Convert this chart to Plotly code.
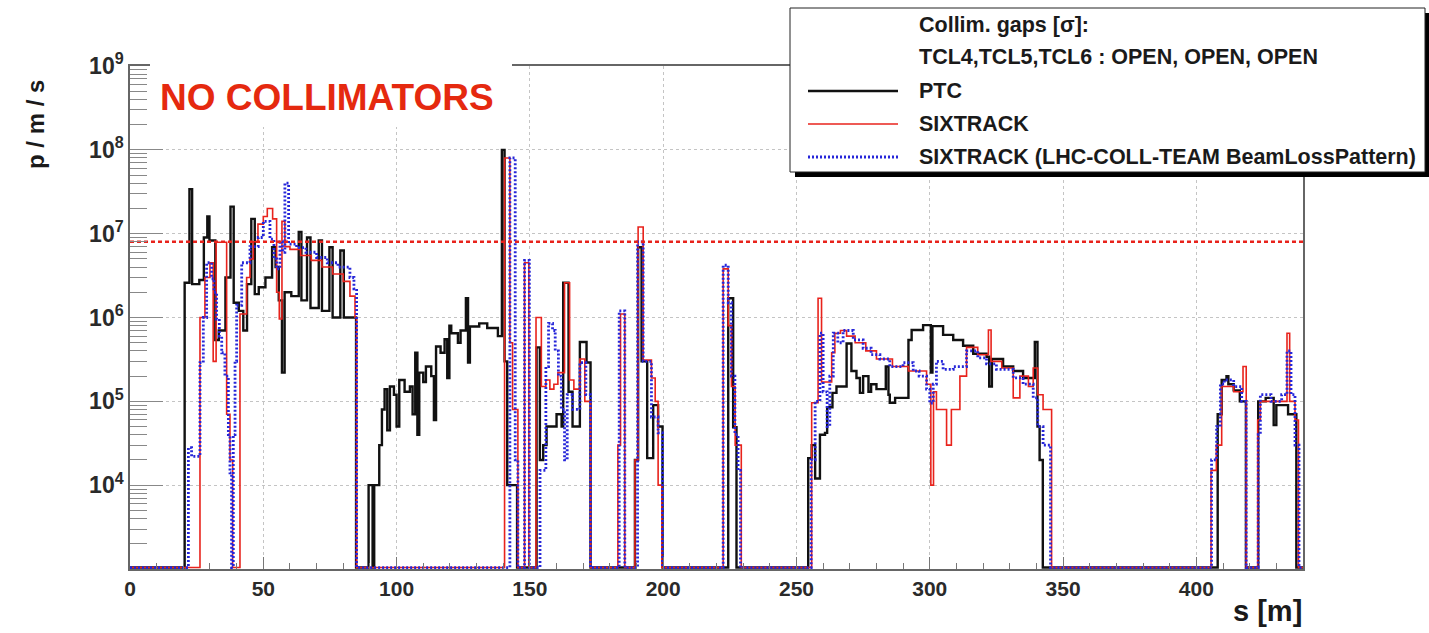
import plotly.graph_objects as go

# ---------------- data (step histograms: bin left edges and bin values) -------------
S_MAX = 440.0

ptc_edges = [0, 20.5, 22.3, 23.3, 26.0, 27.7, 29.0, 29.8, 32.0, 33.3, 35.8, 37.7, 38.9, 40.8,
             42.5, 43.9, 45.5, 46.8, 48.3, 50.8, 53.3, 54.6, 55.8, 57.0, 58.0, 60.5, 63.3,
             64.3, 66.4, 67.7, 70.8, 72.0, 74.8, 76.0, 78.9, 80.2, 84.8,
             89.5, 91.0, 91.6, 93.5, 94.5, 95.5, 96.5, 97.5, 99.0, 100.0, 101.0, 103.0, 105.0,
             106.0, 107.0, 107.8, 108.5, 110.0, 111.0, 113.0, 114.0, 114.8, 116.5, 118.0,
             119.0, 119.8, 120.5, 123.0, 124.0, 126.0, 126.8, 127.5, 131.0, 134.0, 138.0,
             139.5, 140.5, 141.5, 145.2,
             152.5, 153.75, 155.0, 156.25, 160.0, 161.9, 162.5, 164.5, 166.0, 168.75, 171.25,
             172.75,
             189.4, 190.6, 191.9, 194.0, 196.25, 198.1, 199.75,
             224.4, 226.25, 227.5,
             254.4, 255.7, 257.0, 258.8, 260.7, 261.5, 263.5, 265.0, 268.8, 270.6, 272.5,
             273.8, 275.0, 277.0, 278.0, 280.0, 283.5, 284.5, 285.0, 287.0, 292.0, 293.2,
             297.5, 300.4, 301.0, 305.0, 308.8, 312.5, 316.3, 321.3, 322.3, 323.3, 327.5,
             331.3, 335.0, 339.4, 340.4, 341.2, 342.4,
             408.0, 409.5, 411.3, 412.0, 414.0, 416.3, 418.6,
             423.2, 426.0, 429.0, 430.0, 434.4, 437.5]
ptc_values = [0, 2.6e6, 3.4e7, 2.5e6, 2.8e6, 9e6, 1.6e7, 8.3e6, 5.4e5, 7e5, 3e6, 2.1e7, 1.5e6,
              1.2e6, 7e5, 2.5e6, 1.5e7, 1.9e6, 2.3e6, 3e6, 6.9e6, 4e6, 1.6e6, 2.2e5, 2.0e6,
              1.8e6, 1.05e7, 1.6e6, 9e6, 1.3e6, 8.3e6, 1.2e6, 6.9e6, 1.0e6, 6.3e6, 1.0e6, 0,
              1e4, 0, 1e4, 3e4, 8e4, 1.4e5, 4.5e4, 1.5e5, 1.2e5, 5e4, 1.8e5, 1.3e5, 1.5e5,
              7e4, 3.8e5, 4e4, 2.2e5, 1.7e5, 2.6e5, 2.0e5, 6e4, 4.5e5, 3.8e5, 5.5e5,
              1.9e5, 8e5, 6.5e5, 5e5, 7e5, 1.7e6, 2.9e5, 7.8e5, 8.5e5, 7.5e5, 6e5,
              1e8, 3e5, 1e4, 0,
              4.4e5, 2e4, 3e4, 5e4, 7e4, 5e4, 2.6e6, 1.3e5, 5e4, 5.1e5, 2.9e5,
              0,
              2e4, 6.9e6, 3e5, 2.1e4, 9e4, 5e4, 0,
              1.7e6, 4.9e4, 0,
              2.1e4, 3e4, 1.2e4, 4e4, 4.2e4, 8.5e4, 1.26e5, 1.5e5, 4.9e5, 2.3e5, 1.9e5,
              1.26e5, 2e5, 1.3e5, 1.6e5, 1.4e5, 2.6e5, 1.2e5, 9.6e4, 1.1e5, 5.4e5, 7.1e5,
              8.1e5, 2.2e5, 7.9e5, 6.2e5, 5.4e5, 4.6e5, 3.7e5, 3.4e5, 1.5e5, 3.2e5, 2.6e5,
              2.3e5, 1.9e5, 5.1e5, 5e4, 2e4, 0,
              7e4, 1.8e5, 2e5, 1.6e5, 1.35e5, 1.0e5, 0,
              1.0e5, 1.1e5, 5.2e4, 9e4, 7e4, 0]

sixtrack_edges = [0, 26.25, 28.1, 30.0, 31.2, 32.3, 36.25, 37.5, 38.5, 41.25, 43.75, 45.0,
                  46.25, 48.0, 50.0, 51.5, 53.5, 55.0, 56.0, 57.0, 58.1, 60.0, 64.0, 68.0,
                  72.0, 76.0, 80.0, 82.5, 84.4, 85.0,
                  140.5, 142.5, 143.5, 145.5, 148.0, 149.6,
                  152.3, 154.3, 156.0, 157.5, 159.0, 160.5, 163.0, 164.9, 166.5, 168.75,
                  170.6, 172.75,
                  183.0, 184.0, 185.6,
                  189.4, 190.6, 192.5, 195.6, 197.0, 198.1, 199.5,
                  222.5, 224.4, 225.6, 227.0, 229.3,
                  255.7, 258.1, 259.4, 263.2, 264.4, 266.5, 268.8, 272.0, 276.0, 280.0,
                  286.0, 292.0, 298.8, 300.4, 301.4, 302.5, 306.3, 308.1, 311.3, 313.8,
                  318.0, 322.0, 323.0, 327.0, 331.3, 333.8, 337.0, 338.8, 340.5, 342.5,
                  345.7,
                  405.5, 407.5, 409.5, 414.0, 417.5, 418.7,
                  423.0, 424.0, 434.0, 435.0, 437.0, 438.3]
sixtrack_values = [0, 1e6, 3e6, 4.5e6, 3e5, 7.9e6, 7e4, 2e4, 0, 1.1e6, 3e6, 5e6,
                   8e6, 1.3e7, 1.6e7, 2e7, 1.5e7, 2e6, 9.6e5, 1.4e7, 7e6, 6.5e6, 5.5e6,
                   4.8e6, 4e6, 3.3e6, 2.7e6, 1.8e6, 1e6, 0,
                   8e7, 5e5, 8e4, 0, 4.5e6, 0,
                   1e6, 1.5e5, 1.8e5, 1.4e5, 1.6e5, 2.2e5, 2.6e6, 1.8e5, 1.4e5, 3.2e5,
                   1e5, 0,
                   3e4, 1.1e6, 0,
                   2e4, 1.2e7, 3.1e5, 1.9e5, 1e5, 1e4, 0,
                   3.8e6, 8e5, 1.5e5, 3e4, 0,
                   9.6e4, 1.7e6, 1.7e5, 3.8e5, 6.5e5, 7e5, 6e5, 5e5, 4e5, 3.2e5,
                   2.6e5, 2.3e5, 1.6e5, 1e4, 1.3e5, 8e4, 3e4, 8e4, 2e5, 4.4e5,
                   3.6e5, 7.1e5, 3e5, 2.5e5, 1.1e5, 2e5, 1.5e5, 2.5e5, 1.2e5, 8e4,
                   0,
                   1.5e4, 3e4, 1.5e5, 1.3e5, 2.6e5, 0,
                   6e4, 1e5, 6.5e5, 1e5, 6e4, 0]

blp_edges = [0, 21.9, 23.1, 26.25, 27.5, 28.75, 30.6, 31.5, 32.5, 33.5, 34.4, 35.6, 36.9,
             37.5, 38.1, 38.75, 39.4, 40.0, 41.9, 45.0, 48.1, 50.0, 52.5, 54.0, 55.0, 56.25,
             57.2, 58.1, 59.5, 62.5, 66.0, 70.0, 74.0, 78.0, 82.5, 84.0, 85.0,
             142.5, 144.5, 145.5, 148.0, 149.8,
             153.8, 156.0, 157.0, 158.5, 159.5, 160.7, 161.8, 163.0, 164.0, 166.0, 168.75,
             171.0, 172.75,
             183.5, 185.6,
             190.4, 192.5, 195.6, 198.1, 199.75,
             222.5, 224.4, 225.6, 226.9, 228.1, 229.0,
             255.5, 257.0, 258.8, 260.0, 261.5, 262.5, 263.8, 265.5, 267.5, 271.3, 275.0,
             278.0, 281.3, 285.0, 290.0, 293.8, 296.0, 298.8, 300.0, 301.3, 302.5, 305.0,
             308.8, 313.8, 318.0, 321.3, 325.0, 331.3, 335.0, 338.8, 340.5, 342.5, 345.3,
             405.7, 407.6, 409.0, 410.5, 414.0, 417.0, 418.7,
             423.2, 424.0, 428.0, 432.0, 434.0, 435.5, 437.0, 438.5]
blp_values = [0, 2.8e4, 2.2e4, 2.9e5, 1e6, 4.5e6, 2.9e6, 2e6, 9.6e5, 6e5, 3.8e5, 2e5, 4e4,
              1.4e4, 0, 4e4, 3e5, 1.4e6, 4.5e6, 7e6, 9e6, 1.4e7, 8.6e6, 5e6, 3.8e6, 8e6,
              6e6, 4e7, 7.5e6, 6.8e6, 6e6, 5.2e6, 4.5e6, 4e6, 3e6, 2.2e6, 0,
              8e7, 2e4, 0, 4.8e6, 0,
              1.5e4, 2.6e5, 8.5e5, 7e5, 4e5, 2e5, 8e4, 2e4, 1.2e5, 8e4, 2.9e5,
              1.2e5, 0,
              1.2e6, 0,
              8e6, 3e5, 6.5e4, 4.2e4, 0,
              4.2e6, 1.5e6, 2e5, 4e4, 1.5e4, 0,
              2e4, 1e5, 6.5e5, 1.3e5, 5e4, 2e5, 6.5e5, 5e5, 7e5, 5.4e5, 4.3e5,
              3.6e5, 3.2e5, 2.6e5, 2.9e5, 2.3e5, 2e5, 1.4e5, 9.5e4, 1.6e5, 3e5, 2.4e5,
              2.6e5, 4e5, 3.3e5, 2.8e5, 2.4e5, 1.9e5, 1.6e5, 1.1e5, 5e4, 3e4, 0,
              2e4, 5e4, 1.6e5, 1.8e5, 1.5e5, 1e5, 0,
              4e4, 1.2e5, 1e5, 1.2e5, 4e5, 1.2e5, 3e4, 0]

quench_limit = 8e6

x_ticks = [0, 50, 100, 150, 200, 250, 300, 350, 400]
y_ticks = [1e4, 1e5, 1e6, 1e7, 1e8, 1e9]
y_ticktext = ["10<sup>4</sup>", "10<sup>5</sup>", "10<sup>6</sup>",
              "10<sup>7</sup>", "10<sup>8</sup>", "10<sup>9</sup>"]

legend_header = ["Collim. gaps [σ]:", "TCL4,TCL5,TCL6 : OPEN, OPEN, OPEN"]
series_names = ["PTC", "SIXTRACK", "SIXTRACK (LHC-COLL-TEAM BeamLossPattern)"]
series_colors = ["#111111", "#e8231c", "#2626d9"]

# ---------------- layout helpers ----------------
W, H = 1429, 633
L, R, T, B = 130, 126, 66, 64
PW, PH = W - L - R, H - T - B
Y_FLOOR = 1.04e3


def fx(px):
    return (px - L) / PW


def fy(py):
    return (H - B - py) / PH


def step_xy(edges, values):
    xs = list(edges) + [S_MAX]
    ys = [v if v > 0 else Y_FLOOR for v in values]
    ys = ys + [ys[-1]]
    return xs, ys


FONT = "Liberation Sans, Arial, Helvetica, sans-serif"

fig = go.Figure()

styles = [dict(width=2.4, dash="solid"), dict(width=1.6, dash="solid"), dict(width=2.8, dash="2px,2px")]
for name, color, st, (e, v) in zip(series_names, series_colors, styles,
                                   [(ptc_edges, ptc_values), (sixtrack_edges, sixtrack_values),
                                    (blp_edges, blp_values)]):
    xs, ys = step_xy(e, v)
    fig.add_trace(go.Scatter(x=xs, y=ys, mode="lines", name=name, line_shape="hv",
                             line=dict(color=color, width=st["width"], dash=st["dash"]),
                             showlegend=False, hoverinfo="skip"))

fig.add_trace(go.Scatter(x=[0, S_MAX], y=[quench_limit, quench_limit], mode="lines",
                         line=dict(color="#e8231c", width=2.4, dash="4px,3px"),
                         showlegend=False, hoverinfo="skip"))

minor_y = [m * 10 ** k for k in range(3, 9) for m in range(2, 10)]
minor_x = [v for v in range(10, 440, 10) if v % 50 != 0]

fig.update_xaxes(range=[0, S_MAX], tickmode="array", tickvals=x_ticks,
                 ticks="inside", ticklen=12, tickcolor="#777", tickwidth=1,
                 showgrid=True, gridcolor="#c4c4c4", griddash="dot", gridwidth=1,
                 showline=True, linecolor="#666", linewidth=1.5, mirror=True,
                 zeroline=False,
                 tickfont=dict(family=FONT, size=21, color="#2a2a2a", weight="bold"),
                 minor=dict(tickmode="array", tickvals=minor_x, ticks="inside", ticklen=6,
                            tickcolor="#777", showgrid=False))
fig.update_yaxes(type="log", range=[3, 9], tickmode="array", tickvals=y_ticks, ticktext=y_ticktext,
                 ticks="inside", ticklen=33, tickcolor="#888", tickwidth=1,
                 showgrid=True, gridcolor="#c4c4c4", griddash="dot", gridwidth=1,
                 showline=True, linecolor="#666", linewidth=1.5, mirror=True,
                 zeroline=False,
                 tickfont=dict(family=FONT, size=23, color="#2a2a2a", weight="bold"),
                 minor=dict(tickmode="array", tickvals=minor_y, ticks="inside", ticklen=17,
                            tickcolor="#888", showgrid=False))

shapes = []
annotations = []

# "NO COLLIMATORS" white box
shapes.append(dict(type="rect", xref="paper", yref="paper", x0=fx(150), x1=fx(512),
                   y0=fy(127), y1=fy(61), fillcolor="white", line=dict(width=0), layer="above"))
annotations.append(dict(text="NO COLLIMATORS", xref="paper", yref="paper", x=fx(158), y=fy(97),
                        xanchor="left", yanchor="middle", showarrow=False,
                        font=dict(family=FONT, size=37, color="#e5290f", weight="bold")))

# legend box with shadow
shapes.append(dict(type="rect", xref="paper", yref="paper", x0=fx(795), x1=fx(1430),
                   y0=fy(177), y1=fy(13), fillcolor="black", line=dict(width=0), layer="above"))
shapes.append(dict(type="rect", xref="paper", yref="paper", x0=fx(790), x1=fx(1425),
                   y0=fy(172), y1=fy(8), fillcolor="white", line=dict(color="#222", width=1),
                   layer="above"))
row_y = [25, 57, 91, 124, 157]
for txt, yy in zip(legend_header, row_y[:2]):
    annotations.append(dict(text=txt, xref="paper", yref="paper", x=fx(917), y=fy(yy),
                            xanchor="left", yanchor="middle", showarrow=False,
                            font=dict(family=FONT, size=21.5, color="#1a1a1a", weight="bold")))
for name, color, st, yy in zip(series_names, series_colors, styles, row_y[2:]):
    shapes.append(dict(type="line", xref="paper", yref="paper", x0=fx(808), x1=fx(898),
                       y0=fy(yy), y1=fy(yy), layer="above",
                       line=dict(color=color, width=st["width"], dash=st["dash"])))
    annotations.append(dict(text=name, xref="paper", yref="paper", x=fx(917), y=fy(yy),
                            xanchor="left", yanchor="middle", showarrow=False,
                            font=dict(family=FONT, size=21.5, color="#1a1a1a", weight="bold")))

# axis titles
annotations.append(dict(text="p / m / s", xref="paper", yref="paper", x=fx(35), y=fy(125),
                        xanchor="center", yanchor="middle", textangle=-90, showarrow=False,
                        font=dict(family=FONT, size=24, color="#1a1a1a", weight="bold")))
annotations.append(dict(text="s [m]", xref="paper", yref="paper", x=fx(1304), y=fy(611),
                        xanchor="right", yanchor="middle", showarrow=False,
                        font=dict(family=FONT, size=29, color="#1a1a1a", weight="bold")))

fig.update_layout(width=W, height=H, margin=dict(l=L, r=R, t=T, b=B, autoexpand=False),
                  paper_bgcolor="white", plot_bgcolor="white",
                  shapes=shapes, annotations=annotations, showlegend=False)

fig.write_html("out.html", config={"displayModeBar": False})
